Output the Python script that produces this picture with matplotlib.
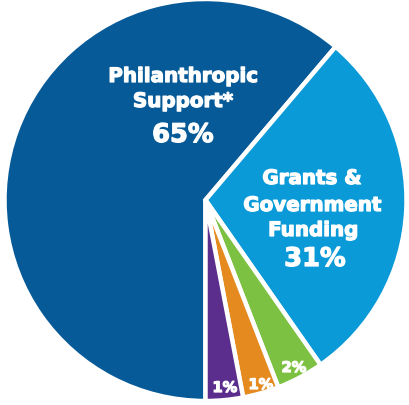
import matplotlib
matplotlib.use("Agg")
import matplotlib.pyplot as plt
import matplotlib.patheffects as pe

# slice shares as drawn (labels are rounded figures shown on the chart)
categories = ["Philanthropic\nSupport*", "Grants &\nGovernment\nFunding", "Other A", "Other B", "Other C"]
shares = [61.2, 29.1, 3.8, 2.9, 3.0]
pct_labels = ["65%", "31%", "2%", "1%", "1%"]
colors = ["#065a97", "#0a9ad8", "#7dc143", "#e58a1f", "#5b2e8e"]

W, H = 409, 406
fig = plt.figure(figsize=(W / 100, H / 100), dpi=100)
ax = fig.add_axes([0, 0, 1, 1])
ax.set_xlim(0, W)
ax.set_ylim(0, H)
ax.set_aspect("equal")
ax.axis("off")

ax.pie(shares, colors=colors, startangle=270, counterclock=False,
       center=(205.5, H - 201), radius=201,
       wedgeprops=dict(edgecolor="white", linewidth=3.2))
ax.set_xlim(0, W)
ax.set_ylim(0, H)

heavy = [pe.withStroke(linewidth=0.9, foreground="white")]
txt = dict(color="white", fontweight="bold", family="DejaVu Sans",
           ha="center", va="baseline", path_effects=heavy)

# big labels (one line per text call, baselines)
ax.text(183, H - 83, "Philanthropic", fontsize=14.3, **txt)
ax.text(183, H - 108, "Support*", fontsize=14.3, **txt)
ax.text(183, H - 143, pct_labels[0], fontsize=18.5, **txt)

ax.text(312, H - 185, "Grants &", fontsize=14.3, **txt)
ax.text(312.5, H - 212, "Government", fontsize=14.3, **txt)
ax.text(313, H - 237, "Funding", fontsize=14.3, **txt)
ax.text(315, H - 267, pct_labels[1], fontsize=18.5, **txt)

# small slices
ax.text(294, H - 373, pct_labels[2], fontsize=10.5, **txt)
ax.text(261, H - 390, pct_labels[3], fontsize=10.5, **txt)
ax.text(225, H - 393, pct_labels[4], fontsize=10.5, **txt)

fig.savefig("out.png", dpi=100, facecolor="white")
